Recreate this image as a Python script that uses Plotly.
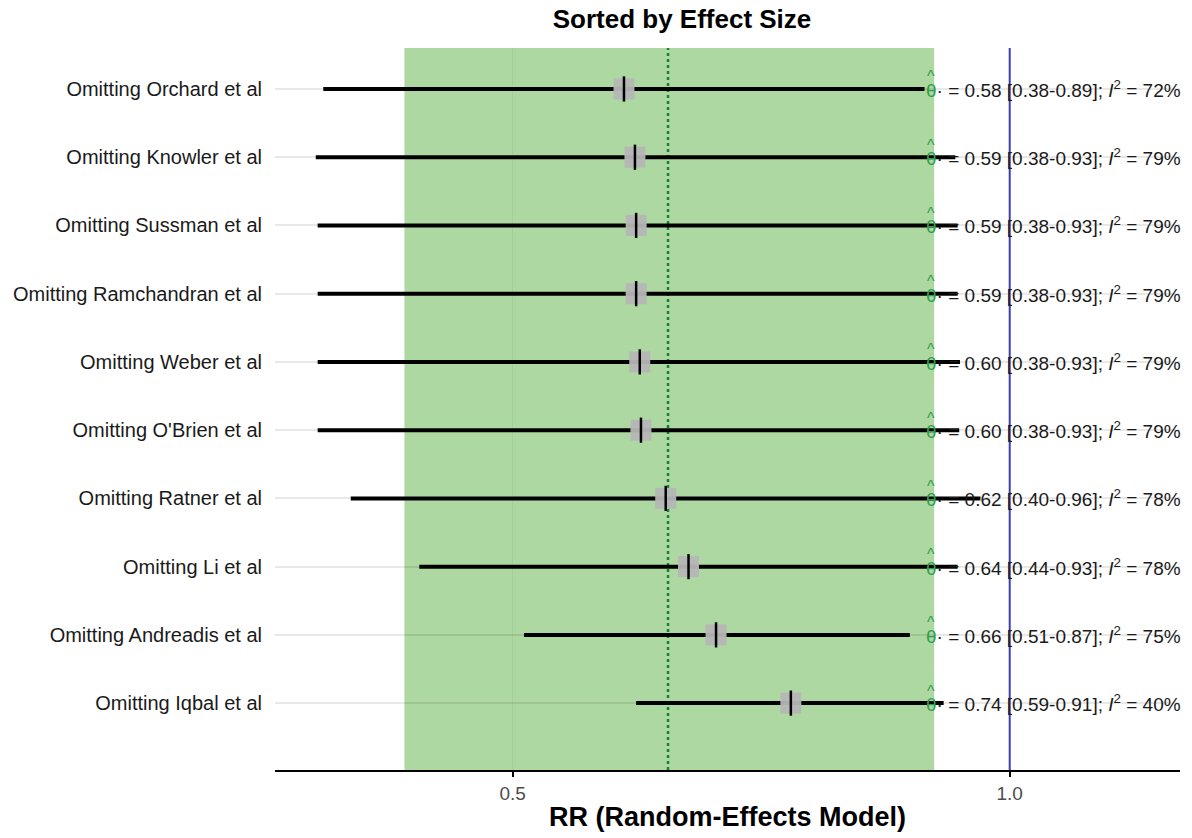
import numpy as np
import plotly.graph_objects as go

studies = ["Omitting Orchard et al", "Omitting Knowler et al", "Omitting Sussman et al",
           "Omitting Ramchandran et al", "Omitting Weber et al", "Omitting O'Brien et al",
           "Omitting Ratner et al", "Omitting Li et al", "Omitting Andreadis et al",
           "Omitting Iqbal et al"]
rr = [0.584, 0.593, 0.594, 0.594, 0.597, 0.598, 0.619, 0.639, 0.664, 0.737]
ci_low = [0.384, 0.380, 0.381, 0.381, 0.381, 0.381, 0.399, 0.439, 0.508, 0.594]
ci_high = [0.888, 0.927, 0.930, 0.930, 0.933, 0.932, 0.960, 0.930, 0.870, 0.912]
i2 = [72, 79, 79, 79, 79, 79, 78, 78, 75, 40]

pooled = 0.621
pooled_low = 0.430
pooled_high = 0.900
null_value = 1.0
x_ticks = [0.5, 1.0]

n = len(studies)
ypos = list(range(n, 0, -1))  # top row = n

FONT = "Liberation Sans, Arial, sans-serif"
THETA_GREEN = "#2e9e4a"

fig = go.Figure()

# CI lines
xs, ys = [], []
for lo, hi, y in zip(ci_low, ci_high, ypos):
    xs += [lo, hi, None]
    ys += [y, y, None]
fig.add_trace(go.Scatter(x=xs, y=ys, mode="lines",
                         line=dict(color="black", width=4), hoverinfo="skip", showlegend=False))
# gray squares
fig.add_trace(go.Scatter(x=rr, y=ypos, mode="markers",
                         marker=dict(symbol="square", size=21, color="rgba(182,182,182,0.95)"),
                         showlegend=False))
# vertical ticks
fig.add_trace(go.Scatter(x=rr, y=ypos, mode="markers",
                         marker=dict(symbol="line-ns", size=18, line=dict(color="black", width=2.5)),
                         showlegend=False))

shapes = [
    dict(type="rect", xref="x", yref="y", x0=pooled_low, x1=pooled_high, y0=0.02, y1=10.6,
         fillcolor="rgba(120,190,100,0.6)", line=dict(width=0), layer="below"),
    dict(type="line", xref="x", yref="y", x0=pooled, x1=pooled, y0=0.02, y1=10.6,
         line=dict(color="#1a7f3a", width=2.5, dash="dot"), layer="below"),
    dict(type="line", xref="x", yref="y", x0=null_value, x1=null_value, y0=0.02, y1=10.6,
         line=dict(color="#3a3fb0", width=2), layer="above"),
]

annotations = []
x_text = (924 - 275) / 905
for m, lo, hi, h, y in zip(rr, ci_low, ci_high, i2, ypos):
    txt = (f"<span style='color:{THETA_GREEN}'>θ</span>· = {m:.2f} [{lo:.2f}-{hi:.2f}]; "
           f"<i>I</i><sup>2</sup> = {h}%")
    annotations.append(dict(x=x_text, xref="paper", y=y, yref="y", text=txt, showarrow=False,
                            xanchor="left", yanchor="middle",
                            font=dict(family=FONT, size=19, color="#1a1a1a")))
    annotations.append(dict(x=x_text, xref="paper", y=y, yref="y", text="^", showarrow=False,
                            xanchor="left", yanchor="middle", xshift=1, yshift=12,
                            font=dict(family=FONT, size=16, color=THETA_GREEN)))

fig.update_layout(
    width=1192, height=838,
    margin=dict(l=275, r=12, t=48, b=68),
    plot_bgcolor="white", paper_bgcolor="white",
    shapes=shapes, annotations=annotations,
    title=dict(text="<b>Sorted by Effect Size</b>", x=682 / 1192, xref="container", xanchor="center",
               y=1 - 19 / 838, yref="container", yanchor="middle",
               font=dict(family=FONT, size=26, color="black")),
    xaxis=dict(type="log", range=[np.log10(0.359), np.log10(1.268)],
               tickvals=x_ticks, ticktext=[f"{v:.1f}" for v in x_ticks],
               showline=True, linecolor="black", linewidth=2, ticks="outside", ticklen=5,
               tickcolor="black", tickwidth=1.5,
               showgrid=True, gridcolor="rgba(0,0,0,0.05)", zeroline=False,
               tickfont=dict(family=FONT, size=19, color="#4d4d4d"),
               title=dict(text="<b>RR (Random-Effects Model)</b>", standoff=4,
                          font=dict(family=FONT, size=27, color="black"))),
    yaxis=dict(range=[0.02, 10.6], tickvals=ypos, ticktext=studies,
               showgrid=True, gridcolor="rgba(0,0,0,0.09)", gridwidth=2, zeroline=False,
               showline=False, ticks="", ticklabelstandoff=12,
               tickfont=dict(family=FONT, size=20, color="#1a1a1a")),
    showlegend=False,
)

fig.write_html("out.html")
